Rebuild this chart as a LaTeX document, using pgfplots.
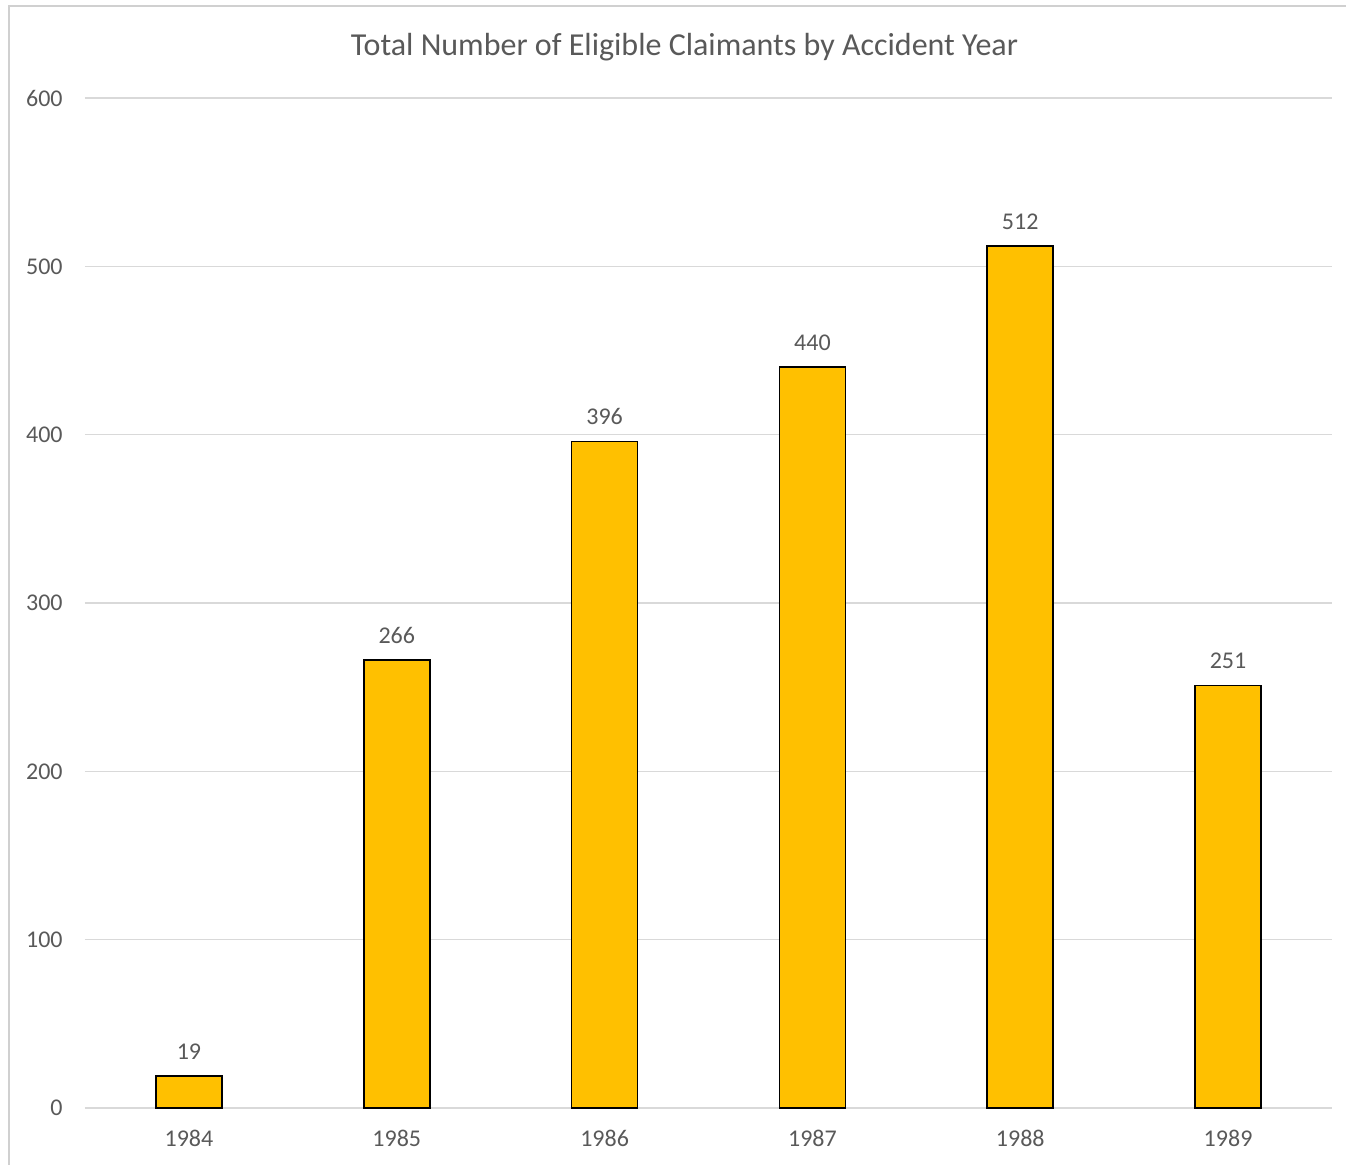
\documentclass[border=0pt]{standalone}
\usepackage{pgfplots}
\pgfplotsset{compat=1.18}
\usepackage{fontspec}
\setmainfont{Carlito}
\definecolor{barfill}{HTML}{FFC000}
\definecolor{gridc}{HTML}{D9D9D9}
\definecolor{textc}{HTML}{595959}
\definecolor{borderc}{HTML}{D0D0D0}
\begin{document}
\begin{tikzpicture}
\begin{scope}[x=0.5pt,y=-0.5pt]
\useasboundingbox (0,0) rectangle (1346,1165);
\draw[borderc, line width=0.6pt] (9,1165) -- (9,6) -- (1346,6);
\node[text=textc, font=\fontsize{16}{19}\selectfont, anchor=base] at (684.5,56) {Total Number of Eligible Claimants by Accident Year};
\end{scope}
\begin{axis}[
  at={(42.5pt,-554pt)}, anchor=south west,
  scale only axis,
  width=623.5pt, height=505pt,
  xmin=-0.5, xmax=5.5,
  ymin=0, ymax=600,
  ytick={0,100,...,600},
  xtick={0,...,5},
  xticklabels={1984,1985,1986,1987,1988,1989},
  axis line style={draw=none},
  major tick length=0pt,
  ymajorgrids,
  grid style={gridc, line width=0.65pt},
  tick label style={text=textc, font=\fontsize{12}{14}\selectfont},
  /pgf/number format/assume math mode=true,
  yticklabel style={inner sep=0pt, xshift=-11pt},
  xticklabel style={inner sep=0pt, yshift=-11pt},
  ybar, bar width=33pt,
  nodes near coords,
  every node near coord/.append style={text=textc, font=\fontsize{12}{14}\selectfont, inner sep=0pt, yshift=8pt},
  clip=false,
]
\addplot[fill=barfill, draw=black, line width=0.9pt] coordinates {(0,19) (1,266) (2,396) (3,440) (4,512) (5,251)};
\end{axis}
\end{tikzpicture}
\end{document}
